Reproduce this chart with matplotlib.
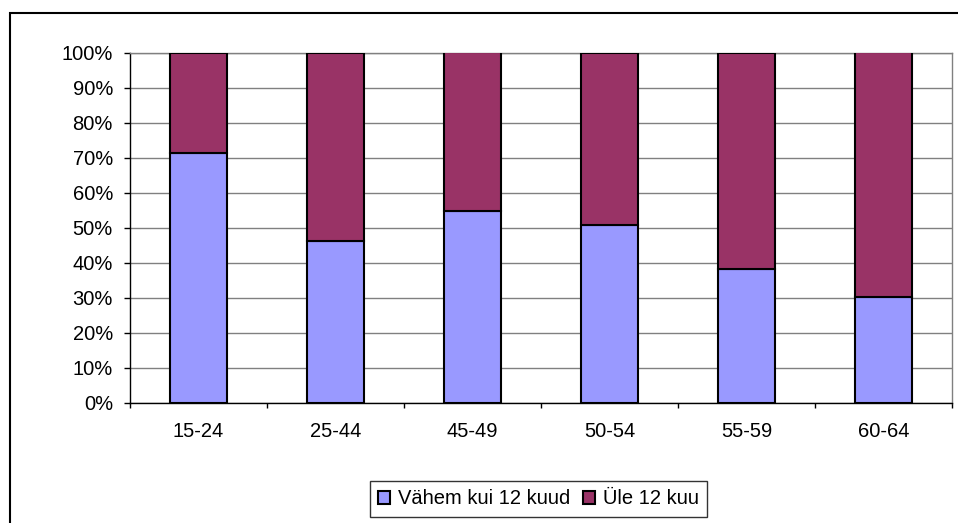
import numpy as np
import matplotlib.pyplot as plt
from matplotlib.patches import Rectangle
from matplotlib.ticker import PercentFormatter

plt.rcParams['font.family'] = ['Liberation Sans', 'DejaVu Sans']

# data
groups = ['15-24', '25-44', '45-49', '50-54', '55-59', '60-64']
under_12 = [71.4, 46.3, 54.7, 50.7, 38.2, 30.3]
over_12 = [100 - v for v in under_12]
series_names = ['Vähem kui 12 kuud', 'Üle 12 kuu']

BLUE = '#9999FF'
MAROON = '#993366'
W, H = 958, 523
FS = 14.5

fig = plt.figure(figsize=(W / 100, H / 100), dpi=100, facecolor='white')
ax = fig.add_axes([130 / W, (H - 402.7) / H, 822 / W, 350.2 / H])

x = np.arange(len(groups))
ax.bar(x, under_12, width=0.41, color=BLUE, edgecolor='black', linewidth=1.5,
       label=series_names[0], zorder=3)
ax.bar(x, over_12, width=0.41, bottom=under_12, color=MAROON, edgecolor='black',
       linewidth=1.5, label=series_names[1], zorder=3)

ax.set_xlim(-0.5, len(groups) - 0.5)
ax.set_ylim(0, 100)
ax.set_yticks(np.arange(0, 101, 10))
ax.yaxis.set_major_formatter(PercentFormatter(decimals=0))
ax.yaxis.grid(True, color='#808080', linewidth=1, zorder=0)

# category labels centred, ticks on the boundaries
ax.set_xticks(x)
ax.set_xticklabels(groups)
ax.tick_params(axis='x', length=0, pad=14, labelsize=FS)
ax.set_xticks(np.arange(-0.5, len(groups)), minor=True)
ax.tick_params(axis='x', which='minor', direction='out', length=3.8, width=1, color='black')
ax.tick_params(axis='y', direction='out', length=4.3, width=1, pad=8, labelsize=FS)

ax.spines['left'].set_color('black')
ax.spines['bottom'].set_color('black')
ax.spines['top'].set_color('#808080')
ax.spines['right'].set_color('#808080')
for s in ax.spines.values():
    s.set_linewidth(1)

# outer chart frame
fig.patches.append(Rectangle((10 / W, -0.1), 1.2, (H - 13) / H + 0.1,
                             transform=fig.transFigure, fill=False,
                             edgecolor='black', linewidth=1.5))

leg = fig.legend(loc='center', bbox_to_anchor=(538.5 / W, 1 - 499 / H), ncol=2,
                 frameon=True, fancybox=False, edgecolor='black', fontsize=FS,
                 handlelength=0.6, handleheight=0.6, handletextpad=0.4,
                 columnspacing=0.6, borderpad=0.4)
leg.get_frame().set_linewidth(1)

plt.savefig('out.png', dpi=100, facecolor='white')
